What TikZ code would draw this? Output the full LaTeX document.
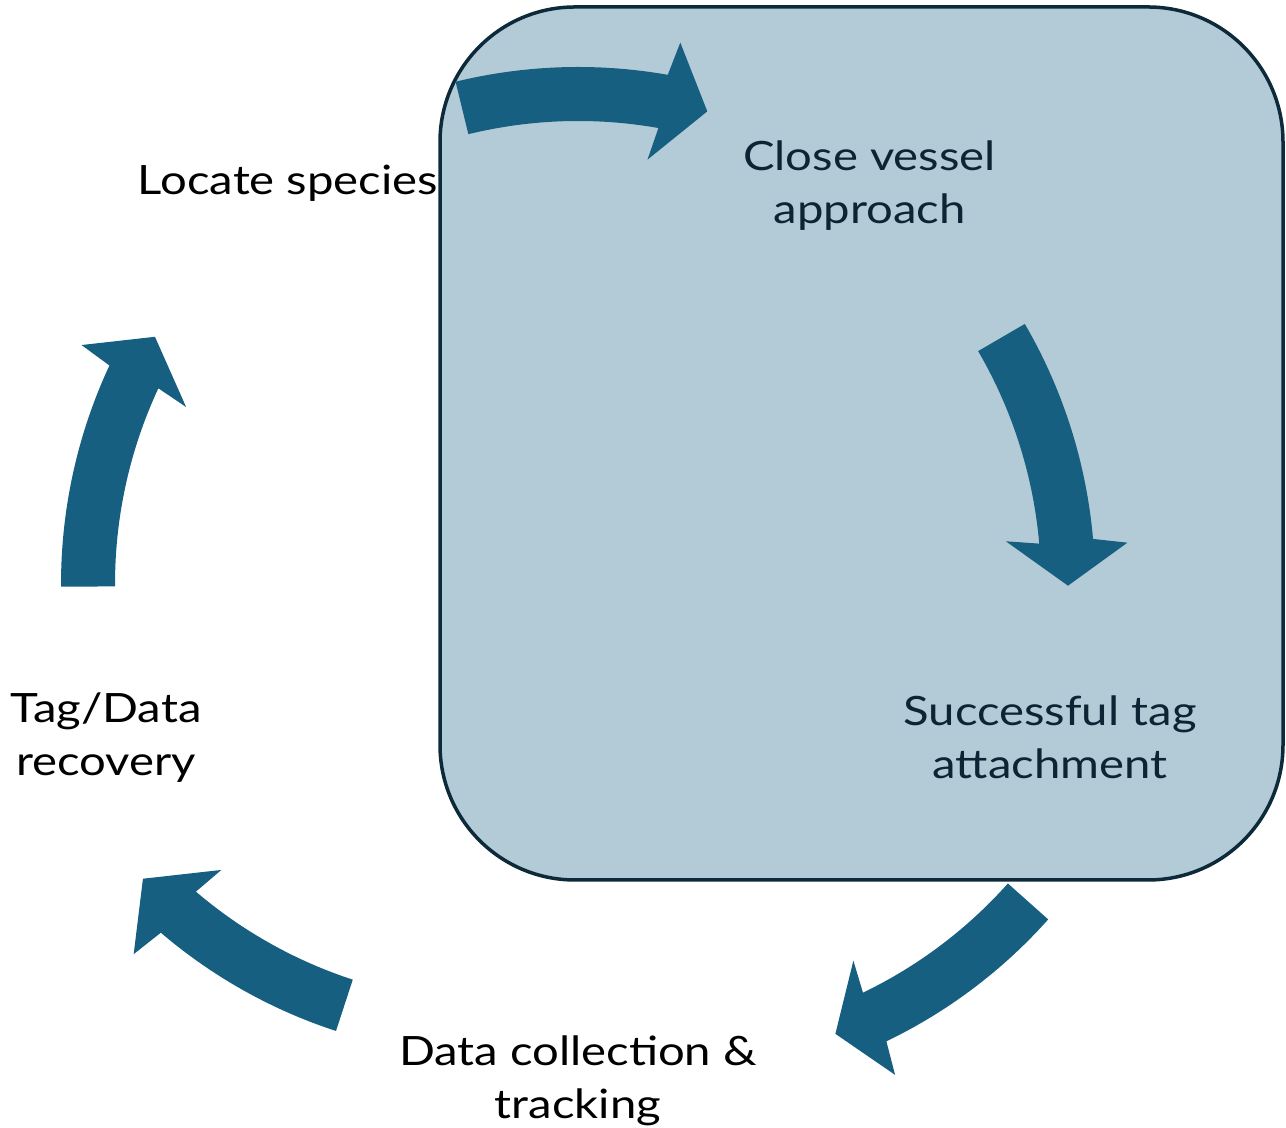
\documentclass[tikz,border=0pt]{standalone}
\usepackage{fontspec}
\setmainfont{Lato}[FakeStretch=1.17]
\usetikzlibrary{calc}
\definecolor{panelfill}{HTML}{B3CBD7}
\definecolor{paneledge}{HTML}{0D2A3A}
\definecolor{arrowblue}{HTML}{165F80}
\definecolor{darktext}{HTML}{0C2433}
\tikzset{
  steplabel/.style={align=center, inner sep=0pt, font=\fontsize{20.2}{26.5}\selectfont},
  inpanel/.style={steplabel, text=darktext},
  cyclefill/.style={fill=arrowblue},
  panel/.style={fill=panelfill, draw=paneledge, line width=1.75pt, rounded corners=67.5pt}
}
% #1,#2 centre of the arc, #3 tail angle, #4 head base angle, #5 tip angle
\newcommand{\cycarrow}[5]{%
  \fill[cyclefill] (#1,#2) ++(#3:517) arc[start angle=#3, end angle=#4, radius=517]
    -- ($(#1,#2)+(#4-0.7:551)$) -- ($(#1,#2)+(#5:490)$) -- ($(#1,#2)+(#4+0.7:430)$)
    -- ($(#1,#2)+(#4:463)$) arc[start angle=#4, end angle=#3, radius=463] -- cycle;}

\begin{document}
\begin{tikzpicture}[x=0.5pt, y=0.5pt]
                    \useasboundingbox (0,0) rectangle (1286,1128);
                    \node[steplabel] (locate) at (288,945) {Locate species};
                    \draw[panel] (440,248) rectangle (1283,1121);
                    \cycarrow{578}{544}{103.7}{80}{74.7}
                    \cycarrow{578}{544}{30.2}{5}{-0.2}
                    \cycarrow{662.2}{552.5}{-41.7}{-64.3}{-69.3}
                    \cycarrow{496.6}{588.4}{251.9}{229.5}{223.8}
                    \cycarrow{578}{544}{180.3}{155}{149.7}
                    \node[inpanel] (approach) at (869.5,942) {Close vessel\\approach};
                    \node[inpanel] (attach) at (1050,391) {Successful tag\\attachment};
                    \node[steplabel] (collect) at (578,47) {Data collection \&\\tracking};
                    \node[steplabel] (recover) at (106,390) {Tag/Data\\recovery};
                \end{tikzpicture}
\end{document}
